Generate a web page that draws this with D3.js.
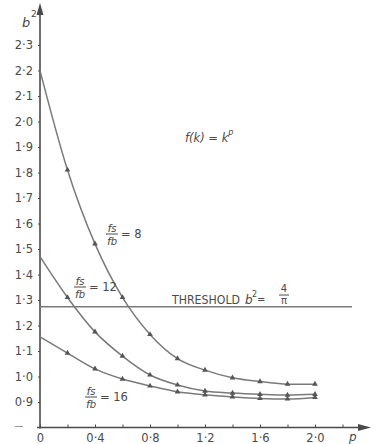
<!DOCTYPE html>
<html><head><meta charset="utf-8">
<script src="https://cdn.jsdelivr.net/npm/d3@7"></script>
<style>html,body{margin:0;padding:0;background:#fff}svg{display:block}</style>
</head><body>
<svg id="c" width="375" height="444"></svg>
<script>
// ---- data ----
const pValues   = [0, 0.2, 0.4, 0.6, 0.8, 1.0, 1.2, 1.4, 1.6, 1.8, 2.0];
const ratio8    = [2.20, 1.81, 1.52, 1.31, 1.165, 1.07, 1.025, 0.995, 0.98, 0.97, 0.97];
const ratio12   = [1.47, 1.31, 1.175, 1.08, 1.006, 0.967, 0.943, 0.935, 0.93, 0.927, 0.93];
const ratio16   = [1.155, 1.092, 1.03, 0.99, 0.963, 0.94, 0.928, 0.92, 0.914, 0.912, 0.918];
const threshold = 4 / Math.PI;
const yTicks = [0.9, 1.0, 1.1, 1.2, 1.3, 1.4, 1.5, 1.6, 1.7, 1.8, 1.9, 2.0, 2.1, 2.2, 2.3];
const xTicks = [0, 0.2, 0.4, 0.6, 0.8, 1.0, 1.2, 1.4, 1.6, 1.8, 2.0, 2.2];
const xLabels = [0, 0.4, 0.8, 1.2, 1.6, 2.0];

// ---- layout ----
const svg = d3.select("#c");
const x = d3.scaleLinear().domain([0, 2.0]).range([40, 315]);
const y = d3.scaleLinear().domain([0.8, 2.3]).range([427.5, 45]);
const ink = "#4a4a4a", lineCol = "#7a7a7a";
const font = "'DejaVu Sans', sans-serif";
const fmt = d => d3.format(".1f")(d).replace(".", "\u00b7");

// y axis
const gy = svg.append("g").attr("transform", `translate(${x(0)},0)`)
  .call(d3.axisLeft(y).tickValues(yTicks).tickSize(2).tickPadding(5).tickFormat(fmt));
gy.select(".domain").remove();
gy.selectAll("line").attr("stroke", ink);
gy.selectAll("text").attr("font-family", font).attr("font-size", 11.5).attr("fill", ink);

// x axis
const gx = svg.append("g").attr("transform", `translate(0,${y(0.8)})`)
  .call(d3.axisBottom(x).tickValues(xTicks).tickSize(-3).tickPadding(6)
    .tickFormat(d => xLabels.some(v => Math.abs(v - d) < 1e-9) ? (d === 0 ? "0" : fmt(d)) : ""));
gx.select(".domain").remove();
gx.selectAll("line").attr("stroke", ink);
gx.selectAll("text").attr("font-family", font).attr("font-size", 11.5).attr("fill", ink);

// axis lines with arrows
svg.append("line").attr("x1", x(0)).attr("x2", x(0)).attr("y1", y(0.8) + 1).attr("y2", 10)
  .attr("stroke", ink).attr("stroke-width", 1.6);
svg.append("path").attr("d", `M${x(0)},3 L${x(0) - 3.5},15 L${x(0) + 3.5},15 Z`).attr("fill", ink);
svg.append("line").attr("x1", 37).attr("x2", 362).attr("y1", y(0.8)).attr("y2", y(0.8))
  .attr("stroke", ink).attr("stroke-width", 1.6);
svg.append("path").attr("d", `M371,${y(0.8)} L358,${y(0.8) - 3.5} L358,${y(0.8) + 3.5} Z`).attr("fill", ink);
svg.append("line").attr("x1", 15).attr("x2", 23).attr("y1", y(0.8) - 1).attr("y2", y(0.8) - 1)
  .attr("stroke", "#999").attr("stroke-width", 1);

// axis titles
svg.append("text").attr("x", 22).attr("y", 27).attr("font-family", font).attr("font-style", "italic")
  .attr("font-size", 13).attr("fill", ink).text("b");
svg.append("text").attr("x", 31).attr("y", 17).attr("font-family", font)
  .attr("font-size", 9).attr("fill", ink).text("2");
svg.append("text").attr("x", 349).attr("y", 441).attr("font-family", font).attr("font-style", "italic")
  .attr("font-size", 12).attr("fill", ink).text("p");

// threshold line
svg.append("line").attr("x1", x(0)).attr("x2", 352).attr("y1", y(threshold)).attr("y2", y(threshold))
  .attr("stroke", lineCol).attr("stroke-width", 1.5);

// curves
const series = [ratio8, ratio12, ratio16];
const line = d3.line().x(d => x(d[0])).y(d => y(d[1])).curve(d3.curveMonotoneX);
const tri = d3.symbol().type(d3.symbolTriangle).size(14);
series.forEach(vals => {
  const pts = pValues.map((p, i) => [p, vals[i]]);
  svg.append("path").datum(pts).attr("d", line).attr("fill", "none")
    .attr("stroke", lineCol).attr("stroke-width", 1.5);
  svg.selectAll(null).data(pts.slice(1)).enter().append("path")
    .attr("d", tri).attr("transform", d => `translate(${x(d[0])},${y(d[1])})`)
    .attr("fill", "#555");
});

// text helpers
function txt(xp, yp, s, size, opts = {}) {
  const t = svg.append("text").attr("x", xp).attr("y", yp).attr("font-family", font)
    .attr("font-size", size).attr("fill", ink).text(s);
  if (opts.italic) t.attr("font-style", "italic");
  if (opts.anchor) t.attr("text-anchor", opts.anchor);
  return t;
}
function fsfb(cx, top, label) {
  const n = svg.append("text").attr("x", cx).attr("y", top + 8).attr("text-anchor", "middle")
    .attr("font-family", font).attr("font-style", "italic").attr("font-size", 11).attr("fill", ink);
  n.append("tspan").text("f"); n.append("tspan").attr("font-size", 10).text("s");
  svg.append("line").attr("x1", cx - 6).attr("x2", cx + 6).attr("y1", top + 10).attr("y2", top + 10)
    .attr("stroke", ink).attr("stroke-width", 1);
  const d = svg.append("text").attr("x", cx).attr("y", top + 21).attr("text-anchor", "middle")
    .attr("font-family", font).attr("font-style", "italic").attr("font-size", 11).attr("fill", ink);
  d.append("tspan").text("f"); d.append("tspan").attr("font-size", 10).text("b");
  txt(cx + 9, top + 14, "= " + label, 11.5);
}
fsfb(112, 224, "8");
fsfb(80, 277, "12");
fsfb(91, 387, "16");

// f(k) = k^p
const fk = txt(185, 142, "", 11.5, { italic: true });
fk.append("tspan").text("f(k) = k");
fk.append("tspan").attr("dy", -7).attr("font-size", 8).text("p");

// threshold label
txt(172, 304, "THRESHOLD", 11.5).attr("textLength", 68).attr("lengthAdjust", "spacingAndGlyphs");
txt(245, 304, "b", 12, { italic: true });
txt(252, 297, "2", 8);
txt(257, 303, "=", 10);
txt(284, 292, "4", 10, { anchor: "middle" });
svg.append("line").attr("x1", 279).attr("x2", 289).attr("y1", 295).attr("y2", 295)
  .attr("stroke", ink).attr("stroke-width", 1);
txt(284, 304, "\u03c0", 10, { anchor: "middle" });
</script>
</body></html>
